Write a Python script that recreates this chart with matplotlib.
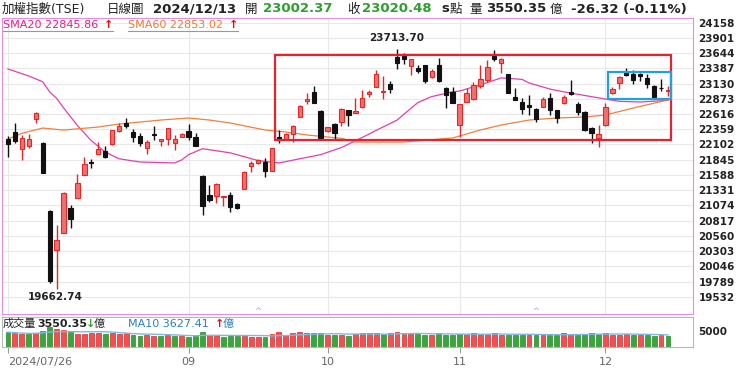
import numpy as np
import matplotlib.pyplot as plt

plt.rcParams['font.family'] = ['DejaVu Sans', 'Noto Sans CJK TC']

# daily candles, 2024/07/26 .. 2024/12/13
opens = [22194, 22317, 22019, 22076, 22531, 22132, 20979, 20321, 20613, 21035,
         21193, 21586, 21800, 21941, 21997, 22109, 22334, 22458, 22318, 22244,
         22036, 22272, 22166, 22188, 22132, 22233, 22334, 22233, 21569, 21249,
         21238, 21221, 21249, 21091, 21350, 21738, 21783, 21800, 21659, 22233,
         22188, 22272, 22571, 22835, 22992, 22666, 22328, 22441, 22475, 22683,
         22638, 22728, 22953, 23077, 22992, 23116, 23583, 23594, 23426, 23386,
         23443, 23234, 23443, 23049, 22992, 22430, 22824, 22863, 23088, 23189,
         23600, 23471, 23285, 22897, 22824, 22768, 22700, 22739, 22880, 22683,
         22796, 22981, 22779, 22655, 22385, 22205, 22430, 22964, 23133, 23319,
         23285, 23285, 23217, 23094, 23050, 23002.37]
highs = [22244, 22469, 22261, 22278, 22655, 22140, 20990, 20742, 21300, 21080,
         21603, 21896, 21862, 22149, 22076, 22350, 22458, 22543, 22357, 22289,
         22177, 22413, 22195, 22380, 22261, 22289, 22447, 22300, 21580, 21418,
         21445, 21240, 21305, 21119, 21650, 21828, 21856, 21867, 22040, 22345,
         22290, 22430, 22767, 22964, 23088, 22683, 22400, 22469, 22711, 22690,
         22880, 23021, 23021, 23358, 23257, 23178, 23713.70, 23651, 23545, 23443,
         23450, 23369, 23555, 23077, 23077, 22790, 23049, 23161, 23443, 23527,
         23696, 23555, 23290, 23049, 22880, 22936, 22711, 22908, 22975, 22690,
         22936, 23189, 22824, 22666, 22390, 22430, 22796, 23077, 23262, 23386,
         23358, 23302, 23285, 23100, 23200, 23094]
lows = [21884, 22132, 21839, 22036, 22458, 21620, 19769, 19662.74, 20600, 20698,
        21190, 21580, 21699, 21935, 21868, 22100, 22317, 22374, 22149, 22076,
        21935, 22177, 22076, 22093, 22008, 22222, 22177, 22075, 20911, 21136,
        21108, 21063, 20956, 21020, 21345, 21642, 21780, 21558, 21655, 22132,
        22177, 22148, 22559, 22784, 22796, 22205, 22320, 22188, 22413, 22413,
        22630, 22720, 22908, 23070, 22863, 22975, 23369, 23459, 23274, 23302,
        23144, 23217, 23161, 22711, 22796, 22222, 22820, 22852, 23049, 23161,
        23510, 23302, 22964, 22845, 22616, 22599, 22486, 22730, 22599, 22458,
        22790, 22936, 22599, 22329, 22121, 22065, 22420, 22947, 23032, 23262,
        23116, 23172, 23060, 22880, 22998, 22925]
closes = [22109, 22160, 22216, 22194, 22638, 21626, 19803, 20489, 21288, 20844,
          21457, 21766, 21790, 22019, 21884, 22346, 22413, 22413, 22222, 22132,
          22149, 22256, 22188, 22374, 22194, 22272, 22233, 22081, 21063, 21164,
          21429, 21232, 21052, 21024, 21642, 21783, 21839, 21659, 22036, 22177,
          22278, 22419, 22756, 22863, 22807, 22216, 22391, 22289, 22700, 22599,
          22666, 22880, 22992, 23291, 23009, 23032, 23482, 23538, 23538, 23341,
          23178, 23347, 23178, 22936, 22807, 22778, 22964, 23105, 23201, 23414,
          23538, 23538, 22976, 22852, 22700, 22739, 22531, 22863, 22683, 22542,
          22908, 22947, 22655, 22346, 22289, 22272, 22739, 23032, 23246, 23274,
          23189, 23262, 23116, 22897, 23046.8, 23020.48]

# turnover (億)
volumes = [4700, 4300, 4200, 4000, 4500, 5200, 6200, 5800, 5300, 4600,
           4200, 4100, 4300, 4400, 4000, 4500, 4200, 4300, 3800, 3600,
           3700, 3600, 3500, 3700, 3500, 3400, 3300, 3600, 4900, 3800,
           3700, 3300, 3500, 3400, 3600, 3300, 3200, 3300, 4000, 4700,
           3900, 4400, 4600, 4400, 4300, 4300, 3700, 3700, 3800, 3600,
           4200, 4500, 4400, 4300, 4000, 4300, 4800, 4100, 4200, 4100,
           3900, 3800, 4300, 3900, 3800, 4100, 4200, 4300, 4000, 4100,
           4400, 3900, 3800, 3700, 3800, 3900, 3900, 4000, 3700, 3900,
           4300, 4100, 4000, 4200, 4300, 4000, 4500, 3900, 3800, 4100,
           3700, 3800, 3800, 3600, 3700, 3550.35]

# moving averages (day index, value)
sma20_idx = [0, 3, 5, 6, 7, 8, 10, 12, 14, 16, 19, 24, 25, 26, 28, 32, 36, 39, 42, 45,
             48, 51, 53, 56, 59, 61, 64, 65, 68, 71, 74, 75, 78, 80, 85, 88, 91, 95]
sma20_val = [23375, 23257, 23160, 22990, 22880, 22720, 22420, 22165, 21975, 21860,
             21806, 21790, 21840, 21930, 22030, 21960, 21830, 21790, 21860, 21930,
             22050, 22220, 22340, 22513, 22810, 22910, 22990, 23003, 23108, 23225,
             23200, 23140, 23037, 22990, 22888, 22830, 22818, 22846]
sma60_idx = [0, 2, 5, 8, 13, 16, 22, 26, 29, 32, 37, 40, 43, 48, 50, 57, 64, 68, 71,
             75, 79, 83, 86, 90, 95]
sma60_val = [22194, 22290, 22379, 22345, 22396, 22447, 22514, 22548, 22514, 22464,
             22346, 22312, 22262, 22205, 22143, 22143, 22211, 22346, 22430, 22514,
             22548, 22565, 22599, 22717, 22853]

price_levels = [24158, 23901, 23644, 23387, 23130, 22873, 22616, 22359, 22102, 21845,
                21588, 21331, 21074, 20817, 20560, 20303, 20046, 19789, 19532]
month_idx = [0, 26, 46, 65, 86]
month_lbl = ['2024/07/26', '09', '10', '11', '12']

W, H = 740, 369
fig = plt.figure(figsize=(W / 100, H / 100), dpi=100)

def px(x, y):
    return x / W, 1 - y / H

def T(x, y, s, **kw):
    kw.setdefault('va', 'center')
    fig.text(*px(x, y), s, **kw)

ax = fig.add_axes([2 / W, 1 - 314 / H, 691 / W, 296 / H])
ax.set_xlim(-0.86, 98.6)
ax.set_ylim(19240.6, 24236)
n = len(closes)
x = np.arange(n)
o = np.array(opens); c = np.array(closes)
up = c >= o
RED, REDF, BLK = '#e02a2a', '#f07070', '#111111'

col = np.where(up, RED, BLK)
ax.vlines(x, lows, highs, colors=col, lw=1, zorder=3)
body = np.abs(c - o)
ax.bar(x, body, bottom=np.minimum(o, c), width=0.62,
       color=np.where(up, REDF, BLK), edgecolor=col, lw=0.8, zorder=4)

ax.plot(sma20_idx, sma20_val, color='#e040b0', lw=0.9, zorder=2)
ax.plot(sma60_idx, sma60_val, color='#f08040', lw=0.9, zorder=2)

ax.set_yticks(price_levels)
ax.yaxis.tick_right()
ax.tick_params(axis='y', length=0, pad=4, labelsize=7.5, labelcolor='#222222')
for t in ax.get_yticklabels():
    t.set_fontweight('bold')
ax.set_xticks(month_idx)
ax.tick_params(axis='x', length=0, labelbottom=False)
ax.grid(True, color='#e8e8e8', lw=0.8, zorder=0)
for s in ax.spines.values():
    s.set_color('#e090e0')

# highlight boxes
ax.add_patch(plt.Rectangle((38.4, 22177), 57.1, 1434, fill=False,
                           edgecolor='#e32430', lw=1.6, zorder=5))
ax.add_patch(plt.Rectangle((86.3, 22869), 9.2, 455, fill=False,
                           edgecolor='#1fa2e0', lw=1.6, zorder=5))

hi = int(np.argmax(highs)); lo = int(np.argmin(lows))
ax.annotate(f'{highs[hi]:.2f}', (hi, highs[hi]), xytext=(0, 4), textcoords='offset points',
            ha='center', va='bottom', fontsize=7.5, fontweight='bold', color='#222222')
ax.annotate(f'{lows[lo]:.2f}', (lo, lows[lo]), xytext=(-1, -2), textcoords='offset points',
            ha='center', va='top', fontsize=7.5, fontweight='bold', color='#222222')
for i in [36, 76]:
    ax.text(i, 19290, '^', ha='center', va='center', fontsize=6, color='#e080d0')

# volume panel
axv = fig.add_axes([2 / W, 1 - 347 / H, 691 / W, 30 / H])
axv.set_xlim(-0.86, 98.6)
axv.set_ylim(0, 9500)
v = np.array(volumes)
vup = np.r_[False, c[1:] >= c[:-1]]
axv.bar(x, v, width=0.7, color=np.where(vup, '#f05050', '#3aa53a'),
        edgecolor=np.where(vup, '#d03030', '#2a8a2a'), lw=0.5)
ma10 = np.convolve(v, np.ones(10), 'full')[:n] / np.minimum(np.arange(1, n + 1), 10)
axv.plot(x, ma10, color='#80b8e0', lw=1)
axv.set_yticks([5000])
axv.set_yticklabels(['5000'], fontweight='bold')
axv.yaxis.tick_right()
axv.tick_params(axis='y', length=0, pad=4, labelsize=7.5, labelcolor='#222222')
axv.set_xticks(month_idx)
axv.set_xticklabels(month_lbl)
axv.tick_params(axis='x', length=4, color='#999999', labelsize=8, labelcolor='#666666', pad=3)
axv.get_xticklabels()[0].set_ha('left')
for s in axv.spines.values():
    s.set_color('#b8b8b8')

# header
hk = dict(fontsize=9, color='#222222')
bk = dict(fontsize=9.5, fontweight='bold', color='#222222')
green = '#2e9e2e'
T(2, 9, '加權指數(TSE)', **hk)
T(107, 9, '日線圖', **hk)
T(153, 9, '2024/12/13', **bk)
T(245, 9, '開', **hk)
T(263, 9, '23002.37', fontsize=9.5, fontweight='bold', color=green)
T(347, 9, '收', **hk)
T(362, 9, '23020.48', fontsize=9.5, fontweight='bold', color=green)
T(441, 9, 's', **bk)
T(450, 9, '點', **hk)
T(469, 9, '量', **hk)
T(486, 9, '3550.35', **bk)
T(550, 9, '億', **hk)
T(571, 9, '-26.32 (-0.11%)', **bk)

# MA legend
T(3, 25, 'SMA20 22845.86', fontsize=8, color='#e0208c')
T(104, 25, '↑', fontsize=8, fontweight='bold', color='#e01010')
T(128, 25, 'SMA60 22853.02', fontsize=8, color='#f07830')
T(229, 25, '↑', fontsize=8, fontweight='bold', color='#e01010')
fig.add_artist(plt.Line2D([3 / W, 113 / W], [1 - 31 / H] * 2, color='#999999', lw=0.8))
fig.add_artist(plt.Line2D([128 / W, 238 / W], [1 - 31 / H] * 2, color='#999999', lw=0.8))

# volume legend
T(3, 324, '成交量', fontsize=8, color='#222222')
T(37, 324, '3550.35', fontsize=8, fontweight='bold', color='#222222')
T(86, 324, '↓', fontsize=8, fontweight='bold', color=green)
T(94, 324, '億', fontsize=8, color='#222222')
T(128, 324, 'MA10 3627.41', fontsize=8, color='#2a7fc0')
T(215, 324, '↑', fontsize=8, fontweight='bold', color='#e01010')
T(223, 324, '億', fontsize=8, color='#2a7fc0')

fig.savefig('out.png', dpi=100)
